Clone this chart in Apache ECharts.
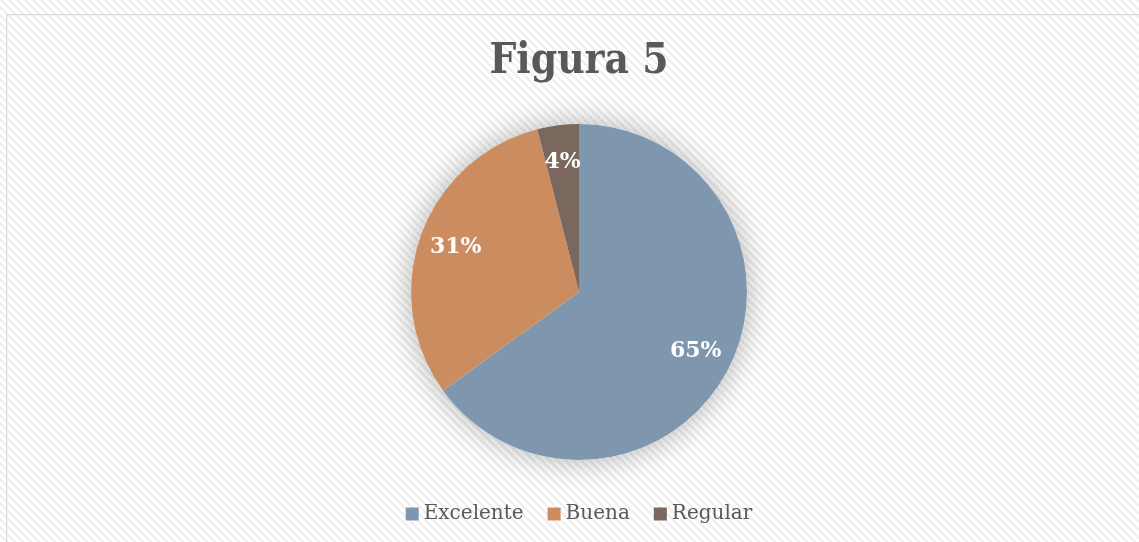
<!DOCTYPE html>
<html>
<head>
<meta charset="utf-8">
<script src="https://cdn.jsdelivr.net/npm/echarts@6/dist/echarts.min.js"></script>
<style>
  html, body { margin:0; padding:0; background:#fff; overflow:hidden; width:1139px; height:542px; }
  #wrap { position:relative; width:1139px; height:542px; overflow:hidden; background-color:#fff; }
  #main { position:absolute; left:6px; top:14px; width:1146px; height:540px; }
</style>
</head>
<body>
<div id="wrap"><div id="main"></div></div>
<script>
const categories = ['Excelente', 'Buena', 'Regular'];
const values = [65, 31, 4];
const colors = ['#7f97ae', '#cb8c5f', '#7a675d'];

// faint diagonal hatch for the page background
(function () {
    const c = document.createElement('canvas');
    c.width = 8; c.height = 8;
    const g = c.getContext('2d');
    g.fillStyle = '#ffffff';
    g.fillRect(0, 0, 8, 8);
    g.fillStyle = '#efefef';
    for (let y = 0; y < 8; y++) {
        for (let x = 0; x < 8; x++) {
            const d = ((x - y) % 8 + 8) % 8;
            if (d < 3) g.fillRect(x, y, 1, 1);
        }
    }
    document.getElementById('wrap').style.backgroundImage = 'url(' + c.toDataURL() + ')';
})();

const total = values.reduce((a, b) => a + b, 0);
const pieData = categories.map((name, i) => ({ name, value: values[i], itemStyle: { color: colors[i] } }));
const serif = '"DejaVu Serif", "Liberation Serif", serif';
const serifTitle = '"DejaVu Serif Condensed", "DejaVu Serif", serif';

const myChart = echarts.init(document.getElementById('main'));
const option = {
    animation: false,
    title: {
        text: 'Figura 5',
        left: 'center',
        top: 22,
        textStyle: { fontFamily: serifTitle, fontSize: 42, fontWeight: 'bold', color: '#595959' }
    },
    legend: {
        top: 485,
        left: 'center',
        icon: 'rect',
        itemWidth: 13,
        itemHeight: 13,
        itemGap: 24,
        data: categories,
        textStyle: { fontFamily: serif, fontSize: 20, color: '#595959' }
    },
    graphic: [{
        type: 'rect',
        shape: { x: 0.5, y: 0.5, width: 1300, height: 700 },
        style: { fill: 'none', stroke: '#d9d9d9', lineWidth: 1.5 },
        silent: true
    }],
    series: [
        {
            // shadow under the pie
            type: 'pie',
            center: ['50%', 278],
            radius: 168,
            silent: true,
            z: 1,
            label: { show: false },
            itemStyle: { color: '#ffffff', shadowBlur: 32, shadowColor: 'rgba(0,0,0,0.3)' },
            data: [{ name: '', value: total }]
        },
        {
            type: 'pie',
            center: ['50%', 278],
            radius: 168,
            startAngle: 90,
            clockwise: true,
            z: 2,
            label: { show: false },
            labelLine: { show: false },
            emphasis: { disabled: true },
            data: pieData
        },
        {
            // label ring
            type: 'pie',
            center: ['50%', 278],
            radius: [88, 168],
            startAngle: 90,
            clockwise: true,
            silent: true,
            z: 3,
            itemStyle: { color: 'transparent' },
            label: {
                show: true,
                position: 'inside',
                formatter: '{d}%',
                fontFamily: serif,
                fontSize: 22,
                fontWeight: 'bold',
                color: '#ffffff'
            },
            labelLine: { show: false },
            data: categories.map((name, i) => ({ name, value: values[i] }))
        }
    ]
};
myChart.setOption(option);
</script>
</body>
</html>
